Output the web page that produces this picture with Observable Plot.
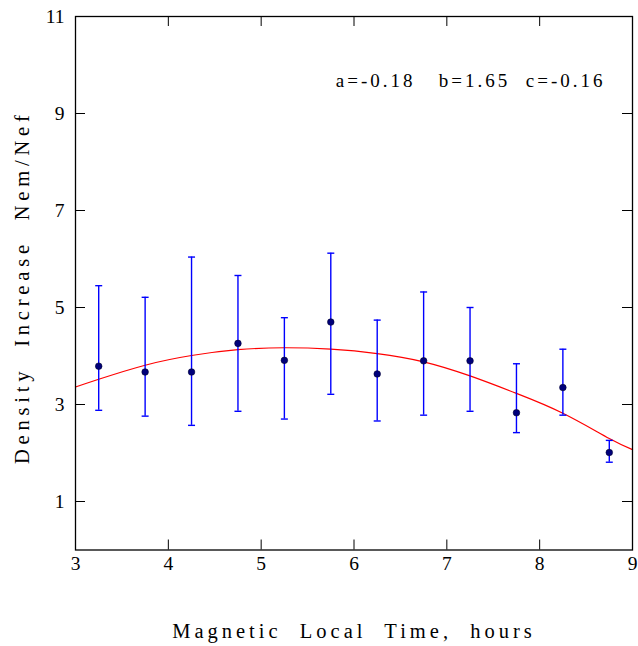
<!DOCTYPE html>
<html>
<head>
<meta charset="utf-8">
<script src="https://cdn.jsdelivr.net/npm/d3@7"></script>
<script src="https://cdn.jsdelivr.net/npm/@observablehq/plot@0.6"></script>
<style>
  html, body { margin: 0; padding: 0; background: #fff; }
  #chart svg { display: block; }
  #chart svg, #chart svg text { font-family: "Liberation Serif", "Times New Roman", serif !important; }
</style>
</head>
<body>
<div id="chart"></div>
<script>
// Magnetic local time (hours)
const mlt = [3.25, 3.75, 4.25, 4.75, 5.25, 5.75, 6.25, 6.75, 7.25, 7.75, 8.25, 8.75];
// Density increase Nem/Nef (mean)
const ratio = [3.79, 3.67, 3.67, 4.26, 3.91, 4.70, 3.63, 3.90, 3.90, 2.83, 3.35, 2.01];
// Error bar upper / lower ends
const upper = [5.45, 5.21, 6.04, 5.66, 4.79, 6.12, 4.74, 5.32, 5.00, 3.84, 4.14, 2.26];
const lower = [2.88, 2.76, 2.57, 2.86, 2.70, 3.21, 2.66, 2.78, 2.86, 2.42, 2.78, 1.81];

// Fitted curve
const fitX = [3, 3.25, 3.75, 4.25, 4.75, 5.25, 5.75, 6.25, 6.75, 7.25, 7.75, 8.25, 8.75, 9];
const fitY = [3.36, 3.52, 3.81, 4.01, 4.13, 4.17, 4.14, 4.05, 3.88, 3.59, 3.23, 2.82, 2.30, 2.07];

const xTickLabels = [3, 4, 5, 6, 7, 8, 9];
const yTickLabels = [1, 3, 5, 7, 9, 11];
const xInnerTicks = [4, 5, 6, 7, 8];

const fitText = "a=-0.18\u00a0\u00a0\u00a0b=1.65\u00a0\u00a0c=-0.16";
const xLabel = "Magnetic\u00a0 Local\u00a0 Time,\u00a0 hours";
const yLabel = "Density\u00a0 Increase\u00a0 Nem/Nef";

const points = mlt.map((x, i) => ({x, y: ratio[i], hi: upper[i], lo: lower[i]}));
const fit = fitX.map((x, i) => ({x, y: fitY[i]}));

const capSymbol = {draw(ctx) { ctx.moveTo(-3.5, 0); ctx.lineTo(3.5, 0); }};

const W = 638, H = 646;
const mL = 75, mR = 6, mT = 16, mB = 96.5;
const innerW = W - mL - mR, innerH = H - mT - mB;

const chart = Plot.plot({
  width: W,
  height: H,
  marginLeft: mL,
  marginRight: mR,
  marginTop: mT,
  marginBottom: mB,
  x: {domain: [3, 9]},
  y: {domain: [0, 11]},
  marks: [
    Plot.axisX(xTickLabels, {anchor: "bottom", tickSize: 0, tickPadding: 6, fontSize: 19.5, label: null}),
    Plot.axisY(yTickLabels, {anchor: "left", tickSize: 0, tickPadding: 11, fontSize: 19.5, label: null}),
    // inward ticks
    Plot.tickY(yTickLabels, {y: d => d, insetRight: innerW - 10, stroke: "#000"}),
    Plot.tickY(yTickLabels, {y: d => d, insetLeft: innerW - 10, stroke: "#000"}),
    Plot.tickX(xInnerTicks, {x: d => d, insetTop: innerH - 10, stroke: "#000"}),
    Plot.tickX(xInnerTicks, {x: d => d, insetBottom: innerH - 10, stroke: "#000"}),
    // fitted curve
    Plot.line(fit, {x: "x", y: "y", curve: "natural", stroke: "#ff0000", strokeWidth: 1.2}),
    // error bars
    Plot.ruleX(points, {x: "x", y1: "lo", y2: "hi", stroke: "#0000ff", strokeWidth: 1.4}),
    Plot.dot(points, {x: "x", y: "hi", symbol: capSymbol, stroke: "#0000ff", strokeWidth: 1.4}),
    Plot.dot(points, {x: "x", y: "lo", symbol: capSymbol, stroke: "#0000ff", strokeWidth: 1.4}),
    // data points
    Plot.dot(points, {x: "x", y: "y", r: 3.3, fill: "#00007a", stroke: "#000030", strokeWidth: 0.6}),
    Plot.frame({stroke: "#000", strokeWidth: 1.3}),
    Plot.text([fitText], {frameAnchor: "top-right", dx: -27, dy: 57, textAnchor: "end", fontSize: 19, fill: "#000"}),
    Plot.text([xLabel], {frameAnchor: "bottom", dy: 88, fontSize: 20.5, fill: "#000"}),
    Plot.text([yLabel], {frameAnchor: "left", dx: -53, dy: 4, rotate: -90, textAnchor: "middle", fontSize: 20.5, fill: "#000"})
  ]
});

chart.style.fontFamily = "'Liberation Serif', 'Times New Roman', serif";
d3.select(chart).selectAll("text").each(function() {
  const t = d3.select(this).text();
  if (t === xLabel) {
    d3.select(this).style("letter-spacing", "4px");
  } else if (t === yLabel) {
    d3.select(this).style("letter-spacing", "4.8px");
  } else if (t === fitText) {
    d3.select(this).style("letter-spacing", "3px");
  }
});

document.getElementById("chart").appendChild(chart);
</script>
</body>
</html>
